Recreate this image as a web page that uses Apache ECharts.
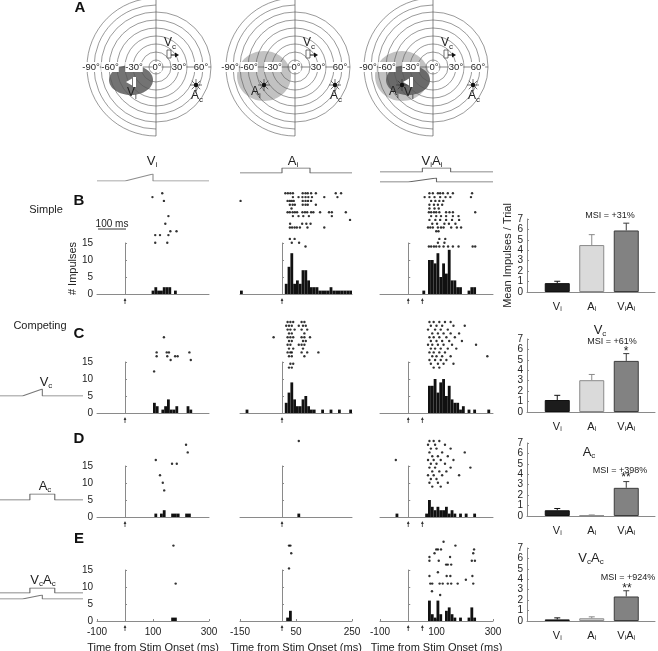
<!DOCTYPE html>
<html><head><meta charset="utf-8">
<script src="https://cdn.jsdelivr.net/npm/echarts@6/dist/echarts.min.js"></script>
<style>html,body{margin:0;padding:0;background:#fff}#c{width:658px;height:651px}</style>
</head><body><div id="c"></div><script>
const FONT = 'Liberation Sans, Arial, Helvetica, sans-serif';

// ---------- data: raster dots [time ms, trial] ----------
const rasterB1 = [[98,2],[133,1],[139,3],[155,7],[144,9],[162,11],[184,11],[108,12],[125,12],[155,12],[108,14],[151,14]];
const rasterB2 = [[12,1],[21,1],[30,1],[39,1],[74,1],[84,1],[92,1],[104,1],[121,1],[192,1],[211,1],[-148,3],
 [39,2],[59,2],[73,2],[84,2],[94,2],[107,2],[151,2],[198,2],
 [20,3],[28,3],[35,3],[42,3],[74,3],[84,3],[93,3],[104,3],
 [28,4],[38,4],[46,4],[74,4],[84,4],[92,4],[121,4],[34,5],
 [20,6],[28,6],[38,6],[46,6],[54,6],[73,6],[82,6],[90,6],[104,6],[112,6],[136,6],[168,6],[178,6],[228,6],
 [39,7],[59,7],[76,7],[96,7],[178,7],[243,8],
 [29,9],[72,9],[87,9],[102,9],[28,10],[36,10],[45,10],[53,10],[64,10],[91,10],[151,10],
 [28,13],[45,13],[35,14],[61,14],[84,15]];
const rasterB3 = [[75,1],[87,1],[105,1],[113,1],[123,1],[140,1],[158,1],[226,1],
 [58,2],[75,2],[93,2],[113,2],[132,2],[149,2],[222,2],[81,3],[96,3],[110,3],[124,3],
 [75,4],[91,4],[105,4],[120,4],[75,5],[93,5],[108,5],
 [73,6],[81,6],[91,6],[99,6],[110,6],[134,6],[146,6],[158,6],[237,6],
 [81,7],[99,7],[116,7],[134,7],[158,7],[178,7],[75,8],[96,8],[113,8],[134,8],[155,8],[180,8],
 [85,9],[102,9],[128,9],[144,9],[167,9],[70,10],[78,10],[87,10],[105,10],[116,10],[125,10],[152,10],[172,10],[187,10],
 [99,11],[107,11],[110,13],[131,13],[105,14],[128,14],
 [73,15],[81,15],[91,15],[99,15],[110,15],[125,15],[141,15],[158,15],[178,15],[228,15],[237,15]];
const rasterC1 = [[139,5],[113,9],[113,10],[149,9],[157,9],[151,10],[163,11],[179,10],[188,10],[230,9],[235,11],[104,14]];
const rasterC2 = [[20,1],[30,1],[40,1],[70,1],[80,1],[15,2],[25,2],[35,2],[60,2],[75,2],[85,2],[20,3],[30,3],[45,3],[70,3],[90,3],
 [25,4],[35,4],[80,4],[-30,5],[20,5],[30,5],[40,5],[70,5],[80,5],[100,5],[25,6],[35,6],[75,6],[85,6],
 [20,7],[30,7],[60,7],[70,7],[80,7],[25,8],[40,8],[75,8],[20,9],[30,9],[35,9],[70,9],[90,9],[130,9],
 [25,10],[35,10],[80,10],[30,12],[40,12],[25,13],[35,13]];
const rasterC3 = [[75,1],[90,1],[110,1],[130,1],[150,1],[80,2],[100,2],[120,2],[160,2],[200,2],[70,3],[95,3],[115,3],[140,3],
 [85,4],[105,4],[125,4],[150,4],[180,4],[75,5],[90,5],[110,5],[135,5],[165,5],[80,6],[100,6],[120,6],[145,6],[190,6],
 [70,7],[85,7],[105,7],[125,7],[155,7],[240,7],[80,8],[95,8],[115,8],[140,8],[170,8],[75,9],[90,9],[110,9],[130,9],
 [85,10],[100,10],[120,10],[150,10],[280,10],[75,11],[95,11],[115,11],[135,11],[80,12],[105,12],[125,12],[160,12],[90,13],[110,13]];
const rasterD1 = [[218,2],[224,4],[110,6],[168,7],[185,7],[125,10],[135,12],[140,14]];
const rasterD2 = [[60,1]];
const rasterD3 = [[-44,6],[75,1],[90,1],[110,1],[70,2],[95,2],[130,2],[80,3],[100,3],[150,3],[75,4],[120,4],[200,4],
 [85,5],[105,5],[140,5],[70,6],[90,6],[115,6],[160,6],[80,7],[100,7],[130,7],[75,8],[95,8],[150,8],[220,8],
 [85,9],[110,9],[135,9],[70,10],[90,10],[120,10],[180,10],[80,11],[100,11],[75,12],[105,12],[140,12],[85,13],[115,13]];
const rasterE1 = [[173,2],[181,12]];
const rasterE2 = [[25,2],[30,2],[33,4],[25,8]];
const rasterE3 = [[125,1],[167,2],[99,3],[105,3],[116,3],[233,3],[93,4],[230,4],[75,5],[148,5],[75,6],[108,6],[225,6],[236,6],
 [134,7],[140,7],[152,7],[105,9],[75,10],[136,10],[149,10],[227,10],[204,11],[78,12],[85,12],[111,12],[122,12],[140,12],
 [152,12],[175,12],[230,12],[84,14],[113,15]];

// ---------- data: histograms [bin start ms, count] ----------
const histB1 = [[95,1],[105,2],[115,1],[125,1],[135,2],[145,2],[155,2],[175,1]];
const histB2 = [[-150,1],[10,3],[20,8],[30,12],[40,3],[50,4],[60,3],[70,7],[80,7],[90,4],[100,2],[110,2],[120,2],
 [130,1],[140,1],[150,1],[160,1],[170,2],[180,1],[190,1],[200,1],[210,1],[220,1],[230,1],[240,1]];
const histB3 = [[50,1],[70,10],[80,10],[90,9],[100,12],[110,5],[120,9],[130,6],[140,13],[150,4],[160,4],[170,2],[180,2],[210,1],[220,2],[230,2]];
const histC1 = [[100,3],[110,2],[130,1],[140,2],[150,4],[160,1],[170,1],[180,2],[220,2],[230,1]];
const histC2 = [[-130,1],[10,3],[20,6],[30,9],[40,4],[50,2],[60,2],[70,4],[80,5],[90,2],[100,1],[110,1],[140,1],[170,1],[200,1],[240,1]];
const histC3 = [[70,8],[80,8],[90,10],[100,6],[110,9],[120,10],[130,5],[140,8],[150,4],[160,3],[170,3],[180,1],[190,2],[210,1],[230,1],[280,1]];
const histD1 = [[105,1],[125,1],[135,2],[165,1],[175,1],[185,1],[215,1],[225,1]];
const histD2 = [[55,1]];
const histD3 = [[-45,1],[60,1],[70,5],[80,3],[90,2],[100,3],[110,2],[120,2],[130,3],[140,1],[150,2],[160,1],[180,1],[200,1],[230,1]];
const histE1 = [[165,1],[175,1]];
const histE2 = [[15,1],[25,3]];
const histE3 = [[70,6],[80,2],[90,1],[100,6],[110,2],[130,3],[140,4],[150,2],[160,1],[180,1],[210,1],[220,4],[230,1]];

// ---------- data: mean impulses / trial ----------
const barCats = ['Vi','Ai','ViAi'];
const meanB = [0.85, 4.5, 5.9], errB = [1.03, 5.5, 6.6];
const meanC = [1.15, 3.05, 4.9], errC = [1.6, 3.6, 5.6];
const meanD = [0.55, 0.05, 2.7], errD = [0.72, 0.1, 3.3];
const meanE = [0.15, 0.26, 2.35], errE = [0.3, 0.4, 2.9];
const msiText = ['MSI = +31%','MSI = +61%','MSI = +398%','MSI = +924%'];
const sigText = ['', '*', '**', '**'];

// ---------- data: stimulus traces [time, level] ----------
const traceV = [[-100,0],[0,0],[100,1],[100,0],[300,0]];
const traceA2 = [[-150,0],[0,0],[0,1],[100,1],[100,0],[250,0]];
const traceA3 = [[-100,0],[50,0],[50,1],[150,1],[150,0],[300,0]];
const traceVc = [[0,0],[27,0],[51,1],[51,0],[100,0]];
const traceAc = [[0,0],[36,0],[36,1],[66,1],[66,0],[100,0]];
const onsets = [[0],[0],[0,50]];

// ---------- layout ----------
const colLeft=[97,240,380], colWidth=[112,112,113], colMin=[-100,-150,-100], SPAN=400, BIN=10;
const histZero=[294,413,517,621], HIST_H=51;
const rasterTop=[189.5,318.2,437.2,538], TRIAL_PX=3.8, N_TRIALS=20;
const barZero=[292,412,516,621], BAR_H=73;
const AX='#8a8a8a';

const rasters=[[rasterB1,rasterB2,rasterB3],[rasterC1,rasterC2,rasterC3],[rasterD1,rasterD2,rasterD3],[rasterE1,rasterE2,rasterE3]];
const hists=[[histB1,histB2,histB3],[histC1,histC2,histC3],[histD1,histD2,histD3],[histE1,histE2,histE3]];
const means=[meanB,meanC,meanD,meanE], errs=[errB,errC,errD,errE];

const grid=[], xAxis=[], yAxis=[], series=[];
function add(g,x,y){grid.push(Object.assign({outerBoundsMode:'none',containLabel:false},g));const i=grid.length-1;x.gridIndex=i;y.gridIndex=i;xAxis.push(x);yAxis.push(y);return i;}
const hidden={show:false};
const rich={m:{fontSize:11,fontFamily:FONT,color:'#222'},s:{fontSize:7,fontFamily:FONT,color:'#222',padding:[6,0,0,0]}};
function subLabel(s){ if(s==='Vi')return '{m|V}{s|i}'; if(s==='Ai')return '{m|A}{s|i}'; return '{m|V}{s|i}{m|A}{s|i}'; }

for(let r=0;r<4;r++){
 for(let c=0;c<3;c++){
  const hg=add({left:colLeft[c],top:histZero[r]-HIST_H,width:colWidth[c],height:HIST_H},
   {type:'value',min:colMin[c],max:colMin[c]+SPAN,interval:200,
    axisLine:{lineStyle:{color:AX,width:1}},axisTick:{show:r===3,inside:true,length:2,lineStyle:{color:AX}},
    axisLabel:{show:r===3,fontSize:10,color:'#222',fontFamily:FONT,margin:6},splitLine:{show:false},
    name:r===3?'Time from Stim Onset (ms)':'',nameLocation:'middle',nameGap:21,nameTextStyle:{fontSize:11,color:'#222',fontFamily:FONT}},
   {type:'value',min:0,max:15,interval:5,axisLine:{show:true,lineStyle:{color:AX,width:1}},
    axisTick:{show:true,inside:true,length:2,lineStyle:{color:AX}},
    axisLabel:{show:c===0,fontSize:10,color:'#222',fontFamily:FONT,margin:4},splitLine:{show:false},
    name:(r===0&&c===0)?'# Impulses':'',nameLocation:'middle',nameGap:16,nameTextStyle:{fontSize:11,color:'#222',fontFamily:FONT}});
  series.push({type:'custom',xAxisIndex:hg,yAxisIndex:hg,data:hists[r][c],clip:false,
   renderItem:(p,api)=>{const a=api.coord([api.value(0),api.value(1)]),b=api.coord([api.value(0)+BIN,0]);
     return {type:'rect',shape:{x:a[0],y:a[1],width:b[0]-a[0],height:b[1]-a[1]},style:{fill:'#111'}};}});
  series.push({type:'custom',xAxisIndex:hg,yAxisIndex:hg,data:onsets[c].map(t=>[t,0]),clip:false,
   renderItem:(p,api)=>{const a=api.coord([api.value(0),0]);
     return {type:'group',children:[
      {type:'line',shape:{x1:a[0],y1:a[1]+5,x2:a[0],y2:a[1]+10},style:{stroke:'#333',lineWidth:0.8}},
      {type:'polygon',shape:{points:[[a[0]-1.4,a[1]+7],[a[0]+1.4,a[1]+7],[a[0],a[1]+4]]},style:{fill:'#333'}}]};}});
  const rg=add({left:colLeft[c],top:rasterTop[r],width:colWidth[c],height:N_TRIALS*TRIAL_PX},
   {type:'value',min:colMin[c],max:colMin[c]+SPAN,show:false},
   {type:'value',min:0,max:N_TRIALS,inverse:true,show:false});
  series.push({type:'scatter',xAxisIndex:rg,yAxisIndex:rg,data:rasters[r][c],symbolSize:2.4,itemStyle:{color:'#000'},silent:true});
 }
 // bar chart: axes frame
 const ag=add({left:527,top:barZero[r]-BAR_H,width:128,height:BAR_H},
  {type:'value',min:0,max:1,axisLine:{lineStyle:{color:AX}},axisTick:hidden,axisLabel:hidden,splitLine:hidden},
  {type:'value',min:0,max:7,interval:1,axisLine:{show:true,lineStyle:{color:AX}},axisTick:{show:true,inside:true,length:2,lineStyle:{color:AX}},
   axisLabel:{fontSize:10,color:'#222',fontFamily:FONT,margin:4},splitLine:hidden,
   name:r===0?'Mean Impulses / Trial':'',nameLocation:'middle',nameGap:14,nameTextStyle:{fontSize:11,color:'#222',fontFamily:FONT}});
 const bg=add({left:540,top:barZero[r]-BAR_H,width:103.5,height:BAR_H},
  {type:'category',data:barCats,axisLine:hidden,axisTick:hidden,
   axisLabel:{interval:0,formatter:subLabel,rich:rich,margin:8}},
  {type:'value',min:0,max:7,show:false});
 const fills=['#1c1c1c','#dadada','#828282'], strokes=['#111','#8a8a8a','#3c3c3c'];
 series.push({type:'bar',xAxisIndex:bg,yAxisIndex:bg,barWidth:25,z:1,
  data:means[r].map((v,i)=>({value:v,itemStyle:{color:fills[i],borderColor:strokes[i],borderWidth:1}}))});
 series.push({type:'custom',xAxisIndex:bg,yAxisIndex:bg,clip:false,
  data:means[r].map((v,i)=>[i,v,errs[r][i]]),
  renderItem:(p,api)=>{const i=api.value(0);const a=api.coord([i,api.value(1)]),b=api.coord([i,api.value(2)]);
   const col=['#111','#8a8a8a','#3c3c3c'][i];
   return {type:'group',children:[{type:'line',shape:{x1:a[0],y1:a[1],x2:b[0],y2:b[1]},style:{stroke:col,lineWidth:1}},
    {type:'line',shape:{x1:b[0]-3,y1:b[1],x2:b[0]+3,y2:b[1]},style:{stroke:col,lineWidth:1}}]};}});
}

// stimulus traces
function trace(left,width,xmin,xmax,top,h,data,color){
 const g=add({left,top,width,height:h},{type:'value',min:xmin,max:xmax,show:false},{type:'value',min:0,max:1,show:false});
 series.push({type:'line',xAxisIndex:g,yAxisIndex:g,data,showSymbol:false,silent:true,lineStyle:{color:color||'#777',width:1.1}});
}
trace(colLeft[0],colWidth[0],-100,300,174,7,traceV,'#8d8d8d');
trace(colLeft[1],colWidth[1],-150,250,168,5,traceA2,'#666');
trace(colLeft[2],colWidth[2],-100,300,168,4,traceA3,'#666');
trace(colLeft[2],colWidth[2],-100,300,178,4,traceV,'#666');
trace(0,83,0,100,389,7,traceVc,'#777');
trace(0,83,0,100,494,6,traceAc,'#666');
trace(0,83,0,100,588,5,traceAc,'#666');
trace(0,83,0,100,595,4,traceVc,'#777');

// ---------- graphic: text + panel A schematic ----------
const G=[];
function txt(x,y,text,opt){G.push(Object.assign({type:'text',x,y,z:100,silent:true,style:Object.assign({text,fontFamily:FONT,fontSize:11,fill:'#222',align:'center',verticalAlign:'middle',rich:{
 m:{fontSize:(opt&&opt.fs)||13,fontFamily:FONT,fill:'#222'},s:{fontSize:8,fontFamily:FONT,fill:'#222',padding:[7,0,0,0]}}},opt&&opt.style||{})},opt&&opt.el||{}));}
function bold(x,y,t){txt(x,y,t,{style:{fontSize:15,fontWeight:'bold',fill:'#111'}});}
bold(80,8,'A');bold(79,201,'B');bold(79,334,'C');bold(79,439,'D');bold(79,539,'E');
txt(46,210,'Simple',{style:{fontSize:11}});
txt(40,326,'Competing',{style:{fontSize:11}});
txt(152,161,'{m|V}{s|i}');txt(293,161,'{m|A}{s|i}');txt(432,161,'{m|V}{s|i}{m|A}{s|i}');
txt(46,382,'{m|V}{s|c}');txt(45,486,'{m|A}{s|c}');txt(43,580,'{m|V}{s|c}{m|A}{s|c}');
txt(112,224,'100 ms',{style:{fontSize:10}});
G.push({type:'line',shape:{x1:98,y1:229,x2:126,y2:229},style:{stroke:'#333',lineWidth:1}});
txt(610,216,msiText[0],{style:{fontSize:9}});
txt(612,342,msiText[1],{style:{fontSize:9}});
txt(620,471,msiText[2],{style:{fontSize:9}});
txt(628,578,msiText[3],{style:{fontSize:9}});
txt(626,352,sigText[1],{style:{fontSize:12}});
txt(626,478,sigText[2],{style:{fontSize:12}});
txt(627,589,sigText[3],{style:{fontSize:12}});
txt(600,330,'{m|V}{s|c}');txt(589,452,'{m|A}{s|c}');txt(591,558,'{m|V}{s|c}{m|A}{s|c}');

function star(x,y){for(let k=0;k<8;k++){const a=k*Math.PI/4;G.push({type:'line',shape:{x1:x+2*Math.cos(a),y1:y+2*Math.sin(a),x2:x+6*Math.cos(a),y2:y+6*Math.sin(a)},style:{stroke:'#333',lineWidth:0.7}});}
 G.push({type:'circle',shape:{cx:x,cy:y,r:2.2},style:{fill:'#111'}});}
function diagram(cx,cy,kind){
 if(kind>=2)G.push({type:'ellipse',shape:{cx:cx-31,cy:cy+9,rx:27,ry:25},style:{fill:'#c2c2c2'}});
 if(kind!==2)G.push({type:'ellipse',shape:{cx:cx-25,cy:cy+13,rx:22,ry:15},style:{fill:kind===3?'#6a6a6a':'#737373'}});
 const L=[7,15,23,31,39,47,55,62,69], R=[7,15,23,31,39,47,55];
 L.forEach(r=>G.push({type:'arc',shape:{cx,cy,r,startAngle:Math.PI/2,endAngle:Math.PI*1.5},style:{stroke:'#555',fill:null,lineWidth:0.6}}));
 R.forEach(r=>G.push({type:'arc',shape:{cx,cy,r,startAngle:-Math.PI/2,endAngle:Math.PI/2},style:{stroke:'#555',fill:null,lineWidth:0.6}}));
 G.push({type:'line',shape:{x1:cx,y1:cy-69,x2:cx,y2:cy+69},style:{stroke:'#555',lineWidth:0.7}});
 G.push({type:'line',shape:{x1:cx-69,y1:cy,x2:cx+55,y2:cy},style:{stroke:'#555',lineWidth:0.7}});
 [[-65,'-90°'],[-46,'-60°'],[-22,'-30°'],[1,'0°'],[23,'30°'],[45,'60°']].forEach(d=>txt(cx+d[0],cy,d[1],{style:{fontSize:9.5,backgroundColor:'#fff',padding:[0,0]}}));
 // Vc
 G.push({type:'rect',shape:{x:cx+11,y:cy-17,width:4,height:8},style:{stroke:'#333',fill:'#fff',lineWidth:0.7}});
 G.push({type:'line',shape:{x1:cx+15,y1:cy-12,x2:cx+20,y2:cy-12},style:{stroke:'#111',lineWidth:1}});
 G.push({type:'polygon',shape:{points:[[cx+23,cy-12],[cx+19,cy-14.5],[cx+19,cy-9.5]]},style:{fill:'#111'}});
 txt(cx+14,cy-24,'{m|V}{s|c}',{fs:12});
 star(cx+40,cy+18); txt(cx+41,cy+29,'{m|A}{s|c}',{fs:12});
 if(kind>=2){star(cx-31,cy+18); txt(cx-39,cy+25,'{m|A}{s|i}',{fs:12});}
 if(kind!==2){G.push({type:'polygon',shape:{points:[[cx-30,cy+15],[cx-24,cy+11.5],[cx-24,cy+18.5]]},style:{fill:'#fff'}});
  G.push({type:'rect',shape:{x:cx-23,y:cy+10,width:3,height:10},style:{fill:'#fff'}});
  txt(cx-24,cy+26,'{m|V}{s|i}',{fs:12});}
}
diagram(156,67,1);diagram(295,67,2);diagram(433,67,3);

const chart=echarts.init(document.getElementById('c'),null,{renderer:'canvas'});
chart.setOption({animation:false,backgroundColor:'#fff',textStyle:{fontFamily:FONT},grid,xAxis,yAxis,series,graphic:{elements:G}});
</script></body></html>
